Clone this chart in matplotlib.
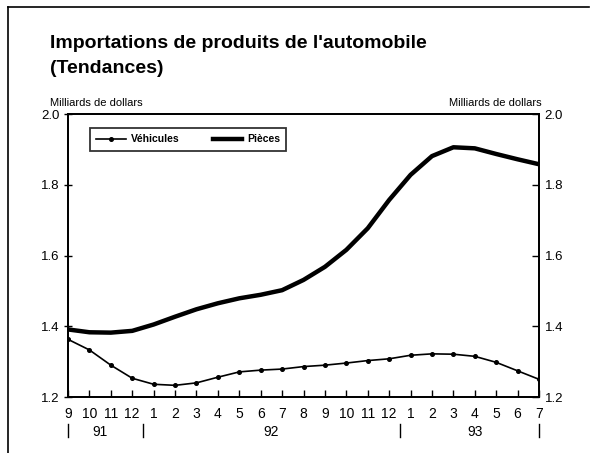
import numpy as np
import matplotlib.pyplot as plt
from matplotlib.lines import Line2D
import matplotlib.transforms as mtransforms

plt.rcParams['font.family'] = ['Liberation Sans', 'DejaVu Sans']

# months from 9/91 to 7/93
months = ['9', '10', '11', '12', '1', '2', '3', '4', '5', '6', '7', '8',
          '9', '10', '11', '12', '1', '2', '3', '4', '5', '6', '7']
years = ['91', '92', '93']
year_pos = [1.5, 9.5, 19.0]
year_breaks = [0, 3.5, 15.5, 22]

vehicules = [1.363, 1.333, 1.290, 1.253, 1.236, 1.233, 1.240, 1.256, 1.271, 1.276,
             1.279, 1.286, 1.290, 1.296, 1.303, 1.308, 1.318, 1.322, 1.321, 1.315,
             1.298, 1.274, 1.250]
pieces = [1.391, 1.383, 1.382, 1.387, 1.405, 1.427, 1.448, 1.465, 1.479, 1.489,
          1.502, 1.531, 1.568, 1.616, 1.677, 1.757, 1.828, 1.881, 1.906, 1.903,
          1.887, 1.872, 1.858]

x = np.arange(len(months))

fig = plt.figure(figsize=(5.92, 4.53), dpi=100)
ax = fig.add_axes([0.1149, 0.1236, 0.7956, 0.6247])

ax.plot(x, vehicules, color='black', lw=1.2, marker='o', ms=2.6, label='Véhicules')
ax.plot(x, pieces, color='black', lw=3.2, label='Pièces')

ax.set_xlim(0, 22)
ax.set_ylim(1.2, 2.0)
ax.set_xticks(x)
ax.set_xticklabels(months, fontsize=10)
ax.set_yticks([1.2, 1.4, 1.6, 1.8, 2.0])
ax.set_yticklabels(['1.2', '1.4', '1.6', '1.8', '2.0'], fontsize=9.5)
ax.tick_params(axis='x', direction='in', length=5, width=1, pad=7)
ax.tick_params(axis='y', direction='inout', length=6, width=1, pad=3)

ax2 = ax.twinx()
ax2.set_ylim(1.2, 2.0)
ax2.set_yticks([1.2, 1.4, 1.6, 1.8, 2.0])
ax2.set_yticklabels(['1.2', '1.4', '1.6', '1.8', '2.0'], fontsize=9.5)
ax2.tick_params(axis='y', direction='in', length=5, width=1, pad=4)

for a in (ax, ax2):
    for s in a.spines.values():
        s.set_linewidth(1.3)

# year row under the month labels
trans = mtransforms.blended_transform_factory(ax.transData, ax.transAxes)
for lab, p in zip(years, year_pos):
    ax.text(p, -0.122, lab, transform=trans, ha='center', va='center', fontsize=10)
for b in year_breaks:
    ax.plot([b, b], [-0.095, -0.14], transform=trans, color='black', lw=1, clip_on=False)

ax.text(-0.038, 1.022, 'Milliards de dollars', transform=ax.transAxes,
        ha='left', va='bottom', fontsize=8)
ax.text(1.006, 1.022, 'Milliards de dollars', transform=ax.transAxes,
        ha='right', va='bottom', fontsize=8)

leg = ax.legend(loc='upper left', bbox_to_anchor=(0.047, 0.95), ncol=2,
                prop={'weight': 'bold', 'size': 7.5}, frameon=True, fancybox=False,
                edgecolor='black', handlelength=2.8, columnspacing=3.2,
                borderpad=0.6, handletextpad=0.5, borderaxespad=0.0)
leg.get_frame().set_linewidth(1.3)

fig.text(0.0845, 0.876, "Importations de produits de l'automobile\n(Tendances)",
         ha='left', va='center', fontsize=14, fontweight='bold', linespacing=1.6)

# border around the figure (top and left)
fig.add_artist(Line2D([0.0135, 0.995], [0.985, 0.985], color='black', lw=1.2))
fig.add_artist(Line2D([0.0135, 0.0135], [0.0, 0.985], color='black', lw=1.2))

fig.savefig('out.png', dpi=100)
